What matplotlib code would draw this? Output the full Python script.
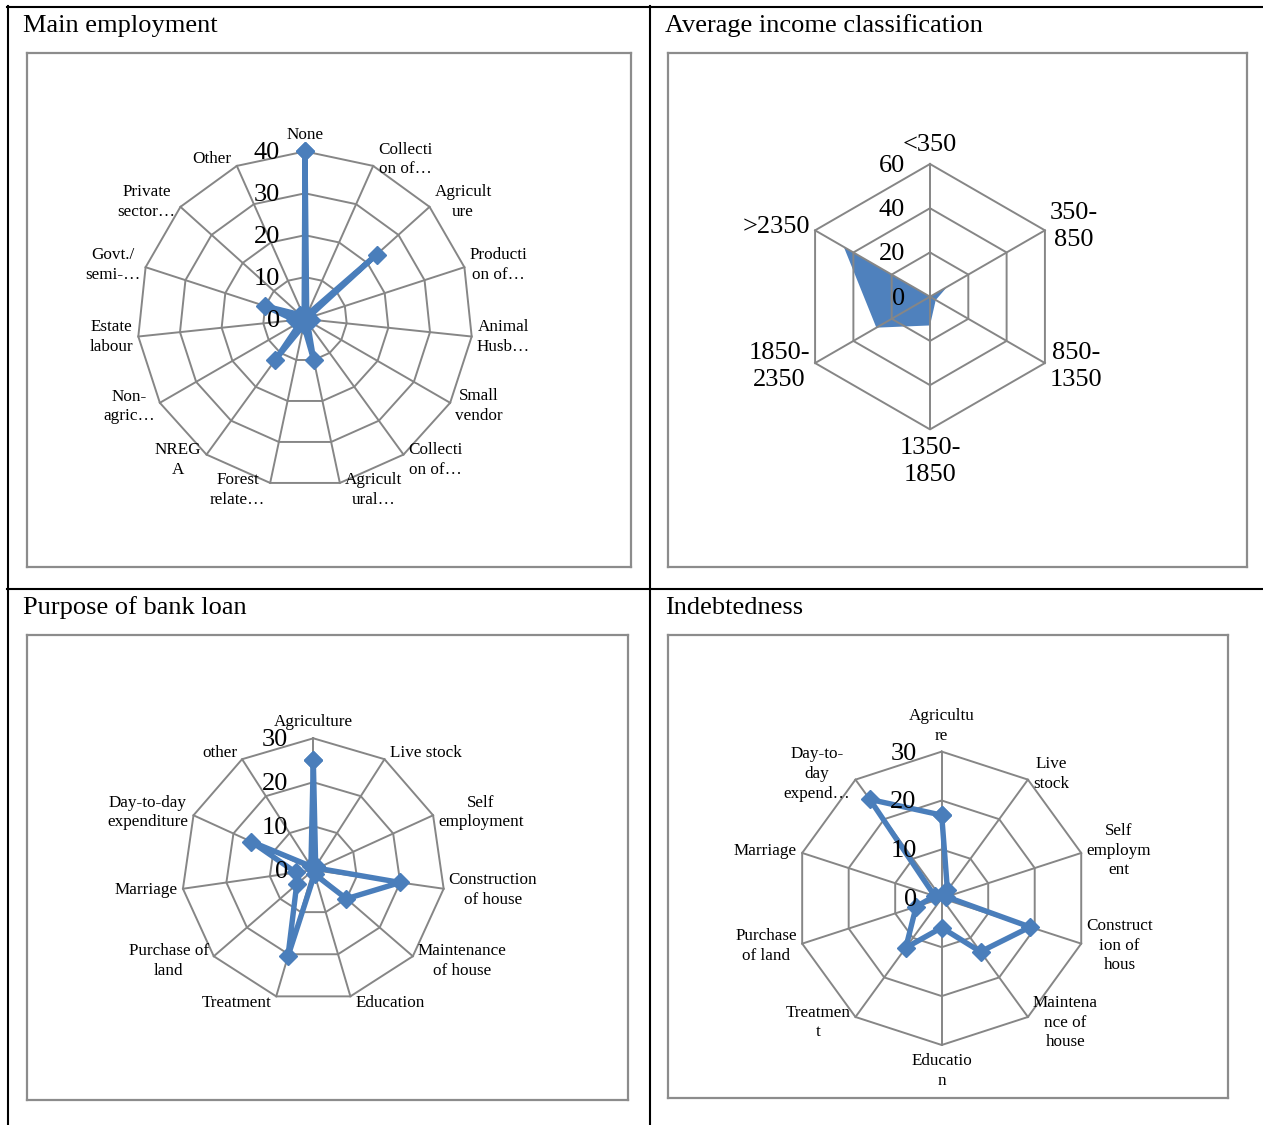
import numpy as np
import matplotlib
matplotlib.use("Agg")
import matplotlib.pyplot as plt
from matplotlib.lines import Line2D

plt.rcParams['font.family'] = ['Liberation Serif', 'DejaVu Serif']

# ---- data ----
emp_labels = ["None", "Collecti\non of…", "Agricult\nure", "Producti\non of…", "Animal\nHusb…",
              "Small\nvendor", "Collecti\non of…", "Agricult\nural…", "Forest\nrelate…", "NREG\nA",
              "Non-\nagric…", "Estate\nlabour", "Govt./\nsemi-…", "Private\nsector…", "Other"]
emp_values = [40, 1, 23, 0.5, 1.5, 1, 1, 10, 1.5, 12, 1, 2.5, 10, 1.5, 0.5]
emp_ticks = [0, 10, 20, 30, 40]

inc_labels = ["<350", "350-\n850", "850-\n1350", "1350-\n1850", "1850-\n2350", ">2350"]
inc_values = [0, 9, 3, 13, 28, 45]
inc_ticks = [0, 20, 40, 60]

loan_labels = ["Agriculture", "Live stock", "Self\nemployment", "Construction\nof house",
               "Maintenance\nof house", "Education", "Treatment", "Purchase of\nland",
               "Marriage", "Day-to-day\nexpenditure", "other"]
loan_values = [25, 1, 1, 20, 10, 1, 20.5, 5, 4, 15.5, 1]
loan_ticks = [0, 10, 20, 30]

debt_labels = ["Agricultu\nre", "Live\nstock", "Self\nemploym\nent", "Construct\nion of\nhous",
               "Maintena\nnce of\nhouse", "Educatio\nn", "Treatmen\nt", "Purchase\nof land",
               "Marriage", "Day-to-\nday\nexpend…"]
debt_values = [17, 2, 1, 19, 13.5, 6, 12.5, 5.5, 1.5, 25]
debt_ticks = [0, 10, 20, 30]

W, H = 1263, 1125
BLUE = '#4A7EBB'
GRID = '#868686'
PT = 0.72  # points per pixel at dpi 100

fig = plt.figure(figsize=(W / 100, H / 100), dpi=100)


def make_axes(box, center, k):
    x0, y0, x1, y1 = box
    cx, cy = center
    ax = fig.add_axes([x0 / W, 1 - y1 / H, (x1 - x0) / W, (y1 - y0) / H])
    ax.set_xlim((x0 - cx) / k, (x1 - cx) / k)
    ax.set_ylim((cy - y1) / k, (cy - y0) / k)
    ax.set_xticks([])
    ax.set_yticks([])
    for s in ax.spines.values():
        s.set_color('#8c8c8c')
        s.set_linewidth(1.6)
    return ax


def radar(ax, labels, values, ticks, cat_size, filled=False, lsp=1.3):
    n = len(labels)
    ang = np.arange(n) * 2 * np.pi / n
    sx, sy = np.sin(ang), np.cos(ang)
    rmax = ticks[-1]
    # polygon grid
    for t in ticks[1:]:
        ax.plot(np.append(sx, sx[0]) * t, np.append(sy, sy[0]) * t,
                color=GRID, lw=1.4, zorder=2)
    for i in range(n):
        ax.plot([0, sx[i] * rmax], [0, sy[i] * rmax], color=GRID, lw=1.4, zorder=2)
    v = np.array(values, dtype=float)
    vx, vy = sx * v, sy * v
    if filled:
        ax.fill(vx, vy, color='#4F81BD', lw=0, zorder=1)
    else:
        ax.plot(np.append(vx, vx[0]), np.append(vy, vy[0]), color=BLUE, lw=3.9,
                marker='D', ms=9, mec=BLUE, mfc=BLUE, zorder=3, solid_joinstyle='round')
    # category labels
    for i in range(n):
        s, c = sx[i], sy[i]
        if abs(s) < 0.01:
            ha = 'center'
            va = 'bottom' if c > 0 else 'top'
            off = (0, (8 if c > 0 else -8) * PT)
        else:
            ha = 'left' if s > 0 else 'right'
            va = 'center'
            off = ((5 if s > 0 else -5) * PT, 7 * c * PT)
        ax.annotate(labels[i], xy=(s * rmax, c * rmax), xytext=off,
                    textcoords='offset points', ha=ha, va=va, fontsize=cat_size,
                    multialignment='center', linespacing=lsp, zorder=5)
    # radial tick labels
    for t in ticks:
        ax.annotate(str(t), xy=(0, t), xytext=(-25 * PT, -2 * PT), textcoords='offset points',
                    ha='right', va='center', fontsize=19, zorder=5)


ax1 = make_axes((27, 53, 631, 567), (305, 319), 167.6 / 40)
radar(ax1, emp_labels, emp_values, emp_ticks, 12.3)

ax2 = make_axes((668, 53, 1247, 567), (930, 296.7), 132.7 / 60)
radar(ax2, inc_labels, inc_values, inc_ticks, 19, filled=True)

ax3 = make_axes((27, 635, 628, 1100), (313.3, 870), 131.7 / 30)
radar(ax3, loan_labels, loan_values, loan_ticks, 12.3)

ax4 = make_axes((668, 635, 1228, 1098), (941.7, 898.3), 146.7 / 30)
radar(ax4, debt_labels, debt_values, debt_ticks, 12.3)

# table borders
def hline(y, x0, x1):
    fig.add_artist(Line2D([x0 / W, x1 / W], [1 - y / H, 1 - y / H], color='black', lw=1.5))

def vline(x, y0, y1):
    fig.add_artist(Line2D([x / W, x / W], [1 - y0 / H, 1 - y1 / H], color='black', lw=1.5))

hline(7, 7, W)
hline(589, 7, W)
vline(8, 6, H)
vline(650, 6, H)

# cell titles
titles = [("Main employment", 23, 32), ("Average income classification", 665, 32),
          ("Purpose of bank loan", 23, 614), ("Indebtedness", 665, 614)]
for t, x, y in titles:
    fig.text(x / W, 1 - y / H, t, fontsize=19, ha='left', va='baseline')

fig.savefig("out.png", dpi=100)
